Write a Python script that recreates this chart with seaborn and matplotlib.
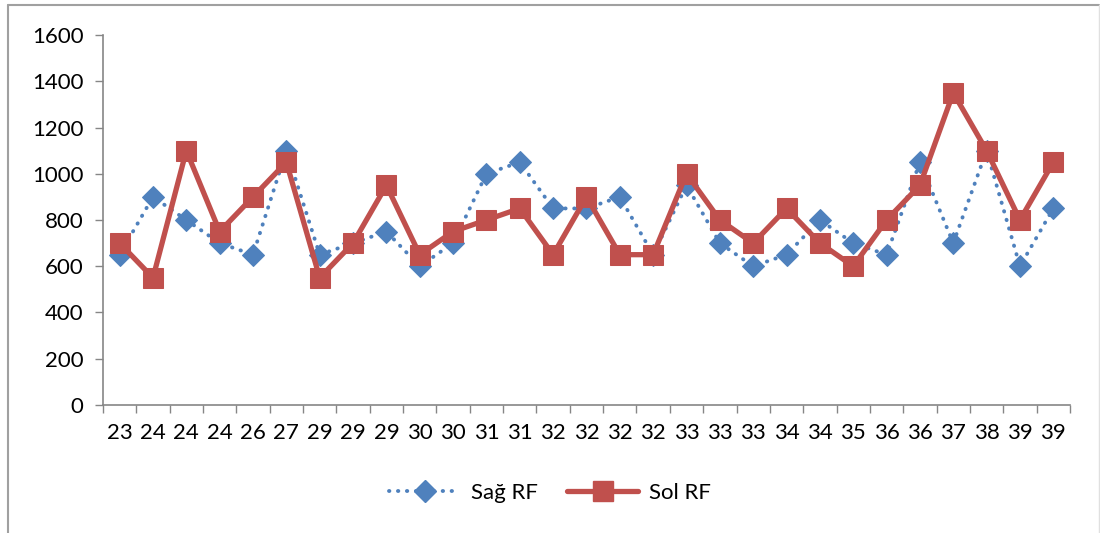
#!/usr/bin/env python3
import numpy as np
import pandas as pd
import matplotlib
matplotlib.use("Agg")
import matplotlib.pyplot as plt
import seaborn as sns
from matplotlib.lines import Line2D
from matplotlib.ticker import FixedLocator

# Data
age_labels = ["23", "24", "24", "24", "26", "27", "29", "29", "29", "30",
              "30", "31", "31", "32", "32", "32", "32", "33", "33", "33",
              "34", "34", "35", "36", "36", "37", "38", "39", "39"]
sag_rf = [650, 900, 800, 700, 650, 1100, 650, 700, 750, 600,
          700, 1000, 1050, 850, 850, 900, 650, 950, 700, 600,
          650, 800, 700, 650, 1050, 700, 1100, 600, 850]
sol_rf = [700, 550, 1100, 750, 900, 1050, 550, 700, 950, 650,
          750, 800, 850, 650, 900, 650, 650, 1000, 800, 700,
          850, 700, 600, 800, 950, 1350, 1100, 800, 1050]

BLUE = "#4F81BD"
RED = "#C0504D"
AXIS = "#868686"

sns.set_style("white")
plt.rcParams["font.family"] = ["Lato", "DejaVu Sans"]
plt.rcParams["text.color"] = "black"
plt.rcParams["xtick.labelcolor"] = "black"
plt.rcParams["ytick.labelcolor"] = "black"

idx = np.arange(len(age_labels))
df = pd.DataFrame({"idx": idx, "Sağ RF": sag_rf, "Sol RF": sol_rf})

fig = plt.figure(figsize=(11, 5.33), dpi=100)
ax = fig.add_axes([0.0936, 0.2402, 0.8791, 0.6941])

sns.lineplot(data=df, x="idx", y="Sağ RF", ax=ax, color=BLUE,
             linestyle=(0, (0.1, 2.2)), linewidth=2.8, dash_capstyle="round",
             marker="D", markersize=11, markeredgecolor=BLUE,
             markerfacecolor=BLUE, zorder=2)
sns.lineplot(data=df, x="idx", y="Sol RF", ax=ax, color=RED,
             linewidth=3.8, marker="s", markersize=14.5,
             markeredgecolor=RED, markerfacecolor=RED, zorder=3)

ax.set_xlim(-0.5, len(age_labels) - 0.5)
ax.set_ylim(0, 1600)
ax.set_yticks(np.arange(0, 1601, 200))
ax.set_xticks(idx)
ax.set_xticklabels(age_labels)
ax.xaxis.set_minor_locator(FixedLocator(np.arange(-0.5, len(age_labels), 1.0)))
ax.tick_params(axis="x", which="major", length=0, pad=13, labelsize=16)
ax.tick_params(axis="x", which="minor", length=6, width=1, color=AXIS,
               direction="out", bottom=True)
ax.tick_params(axis="y", which="major", length=6, width=1, color=AXIS,
               direction="out", left=True, labelsize=16, pad=8)
ax.set_xlabel("")
ax.set_ylabel("")
for side in ["top", "right"]:
    ax.spines[side].set_visible(False)
for side in ["left", "bottom"]:
    ax.spines[side].set_color(AXIS)
    ax.spines[side].set_linewidth(1.2)

handles = [
    Line2D([], [], color=BLUE, linestyle=(0, (0.1, 2.2)), linewidth=2.8,
           dash_capstyle="round", marker="D", markersize=11),
    Line2D([], [], color=RED, linewidth=3.8, marker="s", markersize=14.5),
]
fig.legend(handles, ["Sağ RF", "Sol RF"], loc="center",
           bbox_to_anchor=(0.5, 0.075), ncol=2, frameon=False,
           fontsize=16, handlelength=3.2, handletextpad=0.5,
           columnspacing=1.3)

# chart frame
fig.add_artist(Line2D([0.0073, 0.0073], [0, 0.991], color="#A0A0A0", lw=1.5,
                      transform=fig.transFigure))
fig.add_artist(Line2D([0.0073, 0.999], [0.991, 0.991], color="#A0A0A0", lw=1.5,
                      transform=fig.transFigure))
fig.add_artist(Line2D([0.999, 0.999], [0, 0.991], color="#E0E0E0", lw=1.0,
                      transform=fig.transFigure))

fig.savefig("out.png", dpi=100)
